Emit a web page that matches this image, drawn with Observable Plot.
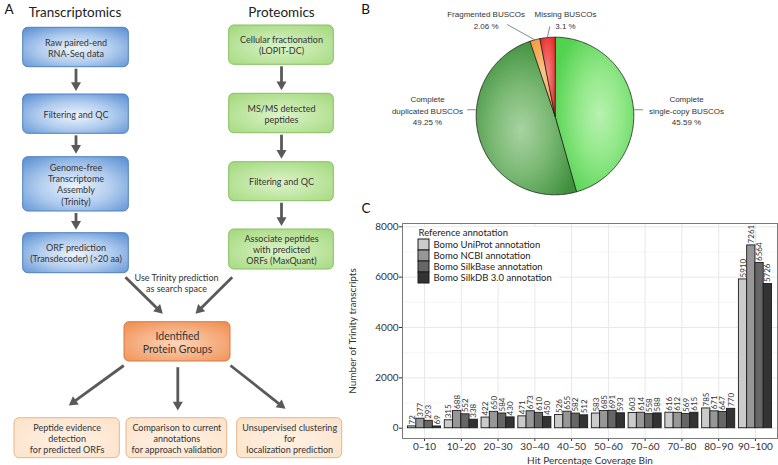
<!DOCTYPE html>
<html><head><meta charset="utf-8">
<script src="https://cdn.jsdelivr.net/npm/d3@7"></script>
<script src="https://cdn.jsdelivr.net/npm/@observablehq/plot@0.6"></script>
<style>
  html, body { margin: 0; padding: 0; background: #fff; }
  #figure { position: relative; width: 778px; height: 465px; overflow: hidden; background: #fff; }
  #figure > svg { position: absolute; max-width: none !important; }
</style>
</head><body>
<div id="figure"></div>
<script>
// ===================== DATA =====================
// Panel A: workflow text
const panelLetters = ["A", "B", "C"];
const columnTitles = ["Transcriptomics", "Proteomics"];
const flowNodes = [
  {id: "raw",        kind: "transcript", lines: ["Raw paired-end", "RNA-Seq data"]},
  {id: "filterT",    kind: "transcript", lines: ["Filtering and QC"]},
  {id: "assembly",   kind: "transcript", lines: ["Genome-free", "Transcriptome", "Assembly", "(Trinity)"]},
  {id: "orf",        kind: "transcript", lines: ["ORF prediction", "(Transdecoder) (>20 aa)"]},
  {id: "lopit",      kind: "proteome",   lines: ["Cellular fractionation", "(LOPIT-DC)"]},
  {id: "msms",       kind: "proteome",   lines: ["MS/MS detected", "peptides"]},
  {id: "filterP",    kind: "proteome",   lines: ["Filtering and QC"]},
  {id: "assoc",      kind: "proteome",   lines: ["Associate peptides", "with predicted", "ORFs (MaxQuant)"]},
  {id: "groups",     kind: "result",     lines: ["Identified", "Protein Groups"]},
  {id: "evidence",   kind: "use",        lines: ["Peptide evidence", "detection", "for predicted ORFs"]},
  {id: "comparison", kind: "use",        lines: ["Comparison to current", "annotations", "for approach validation"]},
  {id: "clustering", kind: "use",        lines: ["Unsupervised clustering", "for", "localization prediction"]}
];
const flowEdges = [
  ["raw", "filterT"], ["filterT", "assembly"], ["assembly", "orf"],
  ["lopit", "msms"], ["msms", "filterP"], ["filterP", "assoc"],
  ["orf", "groups"], ["assoc", "groups"],
  ["groups", "evidence"], ["groups", "comparison"], ["groups", "clustering"]
];
const edgeNote = ["Use Trinity prediction", "as search space"];

// Panel B: BUSCO completeness (%)
const buscoCategories = ["Complete\nsingle-copy BUSCOs", "Complete\nduplicated BUSCOs", "Fragmented BUSCOs", "Missing BUSCOs"];
const buscoPercent = [45.59, 49.25, 2.06, 3.1];

// Panel C: Trinity transcripts per hit-coverage bin
const coverageBins = ["0–10", "10–20", "20–30", "30–40", "40–50", "50–60", "70–60", "70–80", "80–90", "90–100"];
const annotations = ["Bomo UniProt annotation", "Bomo NCBI annotation", "Bomo SilkBase annotation", "Bomo SilkDB 3.0 annotation"];
const uniprotCounts  = [72, 315, 422, 471, 526, 583, 603, 616, 785, 5910];
const ncbiCounts     = [377, 688, 650, 673, 655, 685, 614, 612, 671, 7261];
const silkbaseCounts = [293, 552, 584, 610, 582, 691, 558, 569, 647, 6564];
const silkdbCounts   = [69, 338, 430, 450, 512, 593, 588, 615, 770, 5726];
const yTicks = [0, 2000, 4000, 6000, 8000];
const yMinorTicks = [1000, 3000, 5000, 7000];
const legendTitle = "Reference annotation";
const xTitle = "Hit Percentage Coverage Bin";
const yTitle = "Number of Trinity transcripts";

// ===================== LAYOUT & STYLE =====================
const fig = document.getElementById("figure");
const place = (el, left, top) => { Object.assign(el.style, {left: left + "px", top: top + "px", background: "transparent", overflow: "visible"}); fig.appendChild(el); return el; };
const addRadial = (svg, id, stops, cx = "50%", cy = "50%", r = "65%") => {
  let defs = d3.select(svg).select("defs");
  if (defs.empty()) defs = d3.select(svg).insert("defs", ":first-child");
  const g = defs.append("radialGradient").attr("id", id).attr("cx", cx).attr("cy", cy).attr("r", r);
  stops.forEach(([o, c]) => g.append("stop").attr("offset", o).attr("stop-color", c));
};

// diagram layout (page pixels): [x1, y1, x2, y2]
const boxLayout = {
  raw: [22.7, 27.3, 128.3, 66.7], filterT: [22.7, 94, 128.3, 133.3], assembly: [22.7, 156.7, 128.3, 211], orf: [22.7, 232.7, 128.3, 272.7],
  lopit: [228.7, 25, 333.3, 64.3], msms: [228.7, 93.3, 333.3, 132.7], filterP: [228.7, 161.7, 333.3, 200.7], assoc: [228.7, 229, 333.3, 269],
  groups: [124, 321.7, 230, 361],
  evidence: [14, 417.7, 119.3, 457.7], comparison: [126, 417.7, 226.7, 457.7], clustering: [236.7, 417.7, 341.7, 457.7]
};
const obliqueEdges = {
  "orf>groups": [125, 276.7, 162.3, 313.3], "assoc>groups": [231.7, 276.7, 195, 313.3],
  "groups>evidence": [123.3, 365, 68.3, 405], "groups>comparison": [177.3, 366.7, 177.3, 410], "groups>clustering": [230, 365, 285, 408.3]
};
const titleLayout = [[74.5, 12.4], [281, 12.4]];
const letterLayout = [[8.5, 8.8], [365, 8.8], [365.5, 208.5]];
const noteLayout = [176, 282.5];
const boxStyle = {
  transcript: {stops: [[0, "#eef4fc"], [0.5, "#b0ccee"], [1, "#5e92d4"]], stroke: "#4f80c0"},
  proteome:   {stops: [[0, "#dcf3c9"], [1, "#a4d97e"]], stroke: "#86c062"},
  result:     {stops: [[0, "#fcd5b9"], [1, "#f08f53"]], stroke: "#d77a40"},
  use:        {stops: [[0, "#fff1e4"], [1, "#fde2c9"]], stroke: "#e4b58b"}
};
const fontA = "Lato, 'Noto Sans', sans-serif";

// ===================== PANEL A (canvas for whole figure) =====================
const cxOf = id => (boxLayout[id][0] + boxLayout[id][2]) / 2;
const cyOf = id => (boxLayout[id][1] + boxLayout[id][3]) / 2;
const kHead = 2.9; // arrowhead size unit
const edgeGeom = flowEdges.map(([a, b]) => {
  const key = a + ">" + b;
  let x1, y1, tx, ty;
  if (obliqueEdges[key]) [x1, y1, tx, ty] = obliqueEdges[key];
  else { x1 = cxOf(a); y1 = boxLayout[a][3] + 1.5; tx = cxOf(b); ty = boxLayout[b][1] - 3.5; }
  const len = Math.hypot(tx - x1, ty - y1), ux = (tx - x1) / len, uy = (ty - y1) / len;
  return {x1, y1, bx: tx - ux * (3 * kHead - 1), by: ty - uy * (3 * kHead - 1),
          hx: tx - ux * 2 * kHead, hy: ty - uy * 2 * kHead, angle: Math.atan2(ux, -uy) * 180 / Math.PI};
});
const kinds = Object.keys(boxStyle);
const canvas = Plot.plot({
  width: 778, height: 465, margin: 0,
  style: {fontFamily: fontA, color: "#333"},
  x: {domain: [0, 778], range: [0, 778], axis: null},
  y: {domain: [0, 465], range: [0, 465], axis: null},
  marks: [
    ...kinds.map(k => Plot.rect(flowNodes.filter(d => d.kind === k), {
      x1: d => boxLayout[d.id][0], y1: d => boxLayout[d.id][1], x2: d => boxLayout[d.id][2], y2: d => boxLayout[d.id][3],
      fill: `url(#box-${k})`, stroke: boxStyle[k].stroke, strokeWidth: 1, rx: 5
    })),
    Plot.link(edgeGeom, {x1: "x1", y1: "y1", x2: "bx", y2: "by", stroke: "#5a5a5a", strokeWidth: 2.8, strokeLinecap: "butt"}),
    Plot.dot(edgeGeom, {x: "hx", y: "hy", rotate: "angle", symbol: "triangle", r: Math.sqrt(3 * Math.sqrt(3) * kHead * kHead / Math.PI), fill: "#5a5a5a", stroke: "none"}),
    Plot.text(flowNodes, {x: d => cxOf(d.id), y: d => cyOf(d.id), text: d => d.lines.join("\n"),
      fontSize: d => d.kind === "result" ? 10.5 : 9, lineHeight: 1.24, fill: "#333"}),
    Plot.text([edgeNote.join("\n")], {x: noteLayout[0], y: noteLayout[1], text: d => d, fontSize: 9, lineHeight: 1.24, fill: "#333"}),
    Plot.text(columnTitles, {x: (d, i) => titleLayout[i][0], y: (d, i) => titleLayout[i][1], text: d => d, fontSize: 13.5, fill: "#222"}),
    Plot.text(panelLetters, {x: (d, i) => letterLayout[i][0], y: (d, i) => letterLayout[i][1], text: d => d, fontSize: 13.5, fill: "#111"})
  ]
});
kinds.forEach(k => addRadial(canvas, "box-" + k, boxStyle[k].stops, "50%", "55%", "70%"));
place(canvas, 0, 0);

// ===================== PANEL B: pie =====================
const pieLeft = 360, pieTop = 0, pieW = 418, pieH = 200;
const pieCx = 554.5 - pieLeft, pieCy = 115.5 - pieTop, pieR = 78.8;
const buscoLabelAt = [[1.669, 0.076], [-1.618, 0.076], [-0.874, 1.2246], [0.133, 1.2246]];
const buscoLeaderOuter = [[1.119, 0.079], [-1.114, 0.079], [-0.607, 1.161], [-0.066, 1.136]];
const pieGrad = [
  {stops: [[0, "#b8f2b0"], [0.45, "#92e889"], [1, "#52d24f"]], cx: "57%", cy: "50%"},
  {stops: [[0, "#a9d2a2"], [0.45, "#7dba76"], [1, "#3c8f3a"]], cx: "45%", cy: "58%"},
  {stops: [[0, "#fbc88e"], [1, "#f39a3c"]], cx: "50%", cy: "50%"},
  {stops: [[0, "#fa8a8a"], [1, "#e62a2a"]], cx: "50%", cy: "50%"}
];
const arcs = d3.pie().sort(null).value(d => d)(buscoPercent);
const slicePolygons = arcs.map(a => {
  const n = Math.max(4, Math.ceil((a.endAngle - a.startAngle) / 0.015));
  const pts = [{x: 0, y: 0}];
  for (let s = 0; s <= n; s++) { const t = a.startAngle + (a.endAngle - a.startAngle) * s / n; pts.push({x: Math.sin(t), y: Math.cos(t)}); }
  return pts;
});
const leaders = buscoPercent.map((p, i) => {
  const [ox, oy] = buscoLeaderOuter[i];
  let ix, iy;
  if (i >= 2) { const m = (arcs[i].startAngle + arcs[i].endAngle) / 2; ix = Math.sin(m); iy = Math.cos(m); }
  else { iy = oy; ix = Math.sign(ox) * Math.sqrt(1 - oy * oy); }
  return {x1: ix, y1: iy, x2: ox, y2: oy};
});
const pie = Plot.plot({
  width: pieW, height: pieH, margin: 0,
  style: {fontFamily: "'Liberation Sans', Arial, sans-serif", color: "#333"},
  x: {domain: [-pieCx / pieR, (pieW - pieCx) / pieR], axis: null},
  y: {domain: [-(pieH - pieCy) / pieR, pieCy / pieR], axis: null},
  marks: [
    ...slicePolygons.map((pts, i) => Plot.line(pts, {x: "x", y: "y", curve: "linear-closed", fill: `url(#pie-${i})`, stroke: "#1e1e1e", strokeWidth: 0.8})),
    Plot.link(leaders, {x1: "x1", y1: "y1", x2: "x2", y2: "y2", stroke: "#6a6a6a", strokeWidth: 0.8}),
    Plot.text(buscoCategories, {x: (d, i) => buscoLabelAt[i][0], y: (d, i) => buscoLabelAt[i][1],
      text: (d, i) => d + "\n" + buscoPercent[i] + " %", fontSize: 8, lineHeight: 1.45, fill: "#333"})
  ]
});
pieGrad.forEach((g, i) => addRadial(pie, "pie-" + i, g.stops, g.cx, g.cy, "62%"));
place(pie, pieLeft, pieTop);

// ===================== PANEL C: grouped bars (dodged on a continuous bin axis) =====================
const countSeries = [uniprotCounts, ncbiCounts, silkbaseCounts, silkdbCounts];
const binPos = coverageBins.map((b, i) => i + 1);          // ggplot discrete positions 1..10
const dodgeWidth = 0.9, barW = dodgeWidth / annotations.length;
const barRows = coverageBins.flatMap((bin, i) => annotations.map((a, j) => {
  const x1 = binPos[i] - dodgeWidth / 2 + j * barW;
  return {bin, annotation: a, count: countSeries[j][i], x1, x2: x1 + barW, xm: x1 + barW / 2};
}));
const greys = ["#cbcbcb", "#979797", "#666666", "#333333"];
const cLeft = 350, cTop = 200;
const bars = Plot.plot({
  width: 428, height: 265,
  marginLeft: 52, marginRight: 1, marginTop: 23, marginBottom: 27,
  style: {fontFamily: fontA, fontSize: "10px", color: "#333"},
  x: {domain: [0.4, coverageBins.length + 0.6], axis: null},
  y: {domain: [-409, 8131], axis: null},
  color: {domain: annotations, range: greys},
  marks: [
    Plot.ruleY(yMinorTicks, {stroke: "#f2f2f2", strokeWidth: 0.7}),
    Plot.ruleY(yTicks, {stroke: "#e8e8e8", strokeWidth: 1}),
    Plot.ruleX(binPos, {stroke: "#e8e8e8", strokeWidth: 1}),
    Plot.rectY(barRows, {x1: "x1", x2: "x2", y1: 0, y2: "count", fill: "annotation", stroke: "#1c1c1c", strokeWidth: 0.9}),
    Plot.text(barRows, {x: "xm", y: "count", text: d => String(d.count), rotate: -90, textAnchor: "start", dy: -2, fontSize: 8, fill: "#333"}),
    Plot.axisY(yTicks, {tickSize: 3, tickPadding: 1, fontSize: 10, tickFormat: d => String(d), label: yTitle, labelAnchor: "center", labelArrow: "none", labelOffset: 54}),
    Plot.axisX(binPos, {tickSize: 3, tickPadding: 1, fontSize: 10, tickFormat: p => coverageBins[p - 1], label: xTitle, labelAnchor: "center", labelArrow: "none", labelOffset: 25}),
    Plot.frame({stroke: "#7a7a7a", strokeWidth: 1})
  ]
});
place(bars, cLeft, cTop);

// legend for panel C
const legendRows = [legendTitle, ...annotations];
const legend = Plot.plot({
  width: 142, height: 56, marginLeft: 1, marginRight: 130, marginTop: 0, marginBottom: 0,
  style: {fontFamily: fontA, fontSize: "9.5px", color: "#222"},
  x: {axis: null},
  y: {domain: legendRows, paddingInner: 0, paddingOuter: 0, axis: null},
  color: {domain: annotations, range: greys},
  marks: [
    Plot.cell(annotations, {y: d => d, fill: d => d, stroke: "#1c1c1c", strokeWidth: 1}),
    Plot.text(annotations, {y: d => d, text: d => d, frameAnchor: "right", textAnchor: "start", dx: 4, fontSize: 9.5, fill: "#222"}),
    Plot.text([legendTitle], {y: d => d, text: d => d, frameAnchor: "left", textAnchor: "start", dy: -1.5, fontSize: 9.5, fill: "#222"})
  ]
});
place(legend, 417.3, 227.4);
legend.style.background = "#fff";
</script>
</body></html>
